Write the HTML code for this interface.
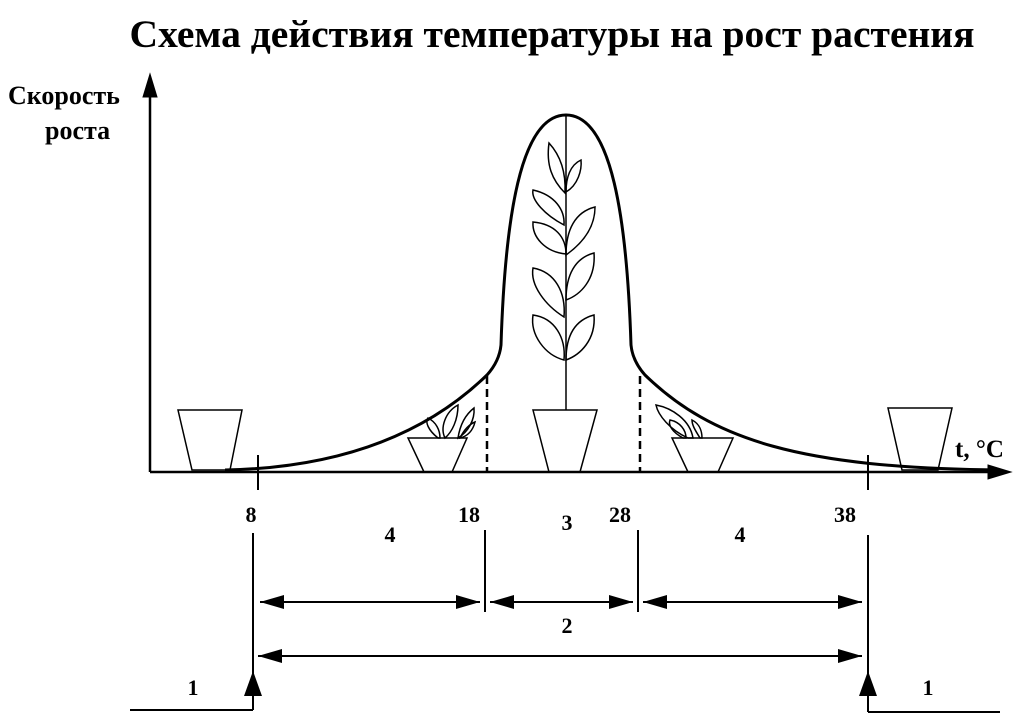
<!DOCTYPE html>
<html><head><meta charset="utf-8"><style>html,body{margin:0;padding:0;background:#fff}svg{display:block}</style></head><body>
<svg width="1022" height="719" viewBox="0 0 1022 719" xmlns="http://www.w3.org/2000/svg" font-family="Liberation Serif, serif" font-weight="bold">
<defs>
<marker id="b" viewBox="0 0 24 14" refX="24" refY="7" markerWidth="24" markerHeight="14" markerUnits="userSpaceOnUse" orient="auto-start-reverse"><path d="M0,0L24,7L0,14z" fill="#000"/></marker></defs>
<text x="552" y="47" font-size="39" text-anchor="middle" textLength="845" lengthAdjust="spacingAndGlyphs">Схема действия температуры на рост растения</text>
<text x="8" y="104" font-size="26">Скорость</text>
<text x="45" y="139" font-size="26">роста</text>
<text x="955" y="457" font-size="25">t, °C</text>
<g stroke="#000" fill="none">
<line x1="150" y1="472" x2="150" y2="95" stroke-width="2.5"/><path d="M143,97L150,74L157,97z" fill="#000"/>
<line x1="150" y1="472" x2="990" y2="472" stroke-width="2.5"/><path d="M988,465L1011,472L988,479z" fill="#000"/>
<path d="M225,470 C330,468 420,440 487,375 C496,365 500,355 501,345 C505,220 520,115 566,115 C612,115 627,220 631,345 C632,355 636,365 645,375 C712,440 800,468 1000,470" stroke-width="3"/>
<line x1="487" y1="376" x2="487" y2="472" stroke-width="2.5" stroke-dasharray="8,5"/>
<line x1="640" y1="376" x2="640" y2="472" stroke-width="2.5" stroke-dasharray="8,5"/>
<line x1="258" y1="455" x2="258" y2="490" stroke-width="2"/>
<line x1="868" y1="455" x2="868" y2="490" stroke-width="2"/>
<g stroke-width="1.5">
<path d="M178,410H242L230,470H192Z"/>
<path d="M888,408H952L938,470H902Z"/>
<path d="M533,410H597L580,472H549Z"/>
<path d="M408,438H467L452,472H424Z"/>
<path d="M672,438H733L718,472H688Z"/>
<line x1="566" y1="115" x2="566" y2="410"/>
<path d="M565,193 C552,180 546,165 549,143 C560,155 566,172 565,193Z"/>
<path d="M566,192 C578,185 582,170 581,160 C570,165 566,178 566,192Z"/>
<path d="M564,225 C545,215 531,200 533,190 C555,195 565,210 564,225Z"/>
<path d="M566,255 C580,245 595,230 595,207 C575,212 566,230 566,255Z"/>
<path d="M566,254 C545,252 532,237 533,222 C555,224 566,237 566,254Z"/>
<path d="M566,300 C580,295 596,280 594,253 C575,258 566,275 566,300Z"/>
<path d="M564,317 C545,305 530,285 533,268 C555,272 566,292 564,317Z"/>
<path d="M566,360 C580,355 596,340 594,315 C575,320 566,335 566,360Z"/>
<path d="M564,360 C545,355 530,335 533,315 C555,318 566,338 564,360Z"/>
<path d="M438,438 C428,430 425,422 428,418 C436,422 440,430 440,438Z"/>
<path d="M445,438 C440,428 445,412 458,405 C458,420 452,432 445,438Z"/>
<path d="M458,438 C460,425 465,415 474,408 C475,420 468,432 458,438Z"/>
<path d="M460,438 C465,428 470,424 475,422 C473,430 468,436 460,438Z"/>
<path d="M688,438 C670,430 658,415 656,405 C672,408 690,420 693,438Z"/>
<path d="M683,438 C672,432 668,425 670,420 C680,422 686,430 686,438Z"/>
<path d="M700,438 C695,430 692,425 692,420 C700,424 702,432 702,438Z"/>
</g>
<g stroke-width="2">
<line x1="253" y1="533" x2="253" y2="710"/>
<line x1="485" y1="530" x2="485" y2="612"/>
<line x1="638" y1="530" x2="638" y2="612"/>
<line x1="868" y1="535" x2="868" y2="712"/>
<line x1="130" y1="710" x2="253" y2="710"/>
<line x1="868" y1="712" x2="1000" y2="712"/>
<line x1="260" y1="602" x2="480" y2="602" marker-start="url(#b)" marker-end="url(#b)"/>
<line x1="490" y1="602" x2="633" y2="602" marker-start="url(#b)" marker-end="url(#b)"/>
<line x1="643" y1="602" x2="862" y2="602" marker-start="url(#b)" marker-end="url(#b)"/>
<line x1="258" y1="656" x2="862" y2="656" marker-start="url(#b)" marker-end="url(#b)"/>
</g>
</g>
<path d="M244,696L253,671L262,696Z"/><path d="M859,696L868,671L877,696Z"/>
<g font-size="22" text-anchor="middle">
<text x="251" y="522">8</text><text x="469" y="522">18</text><text x="620" y="522">28</text><text x="845" y="522">38</text>
<text x="567" y="530">3</text><text x="390" y="542">4</text><text x="740" y="542">4</text>
<text x="567" y="633">2</text><text x="193" y="695">1</text><text x="928" y="695">1</text>
</g>
</svg>
</body></html>
